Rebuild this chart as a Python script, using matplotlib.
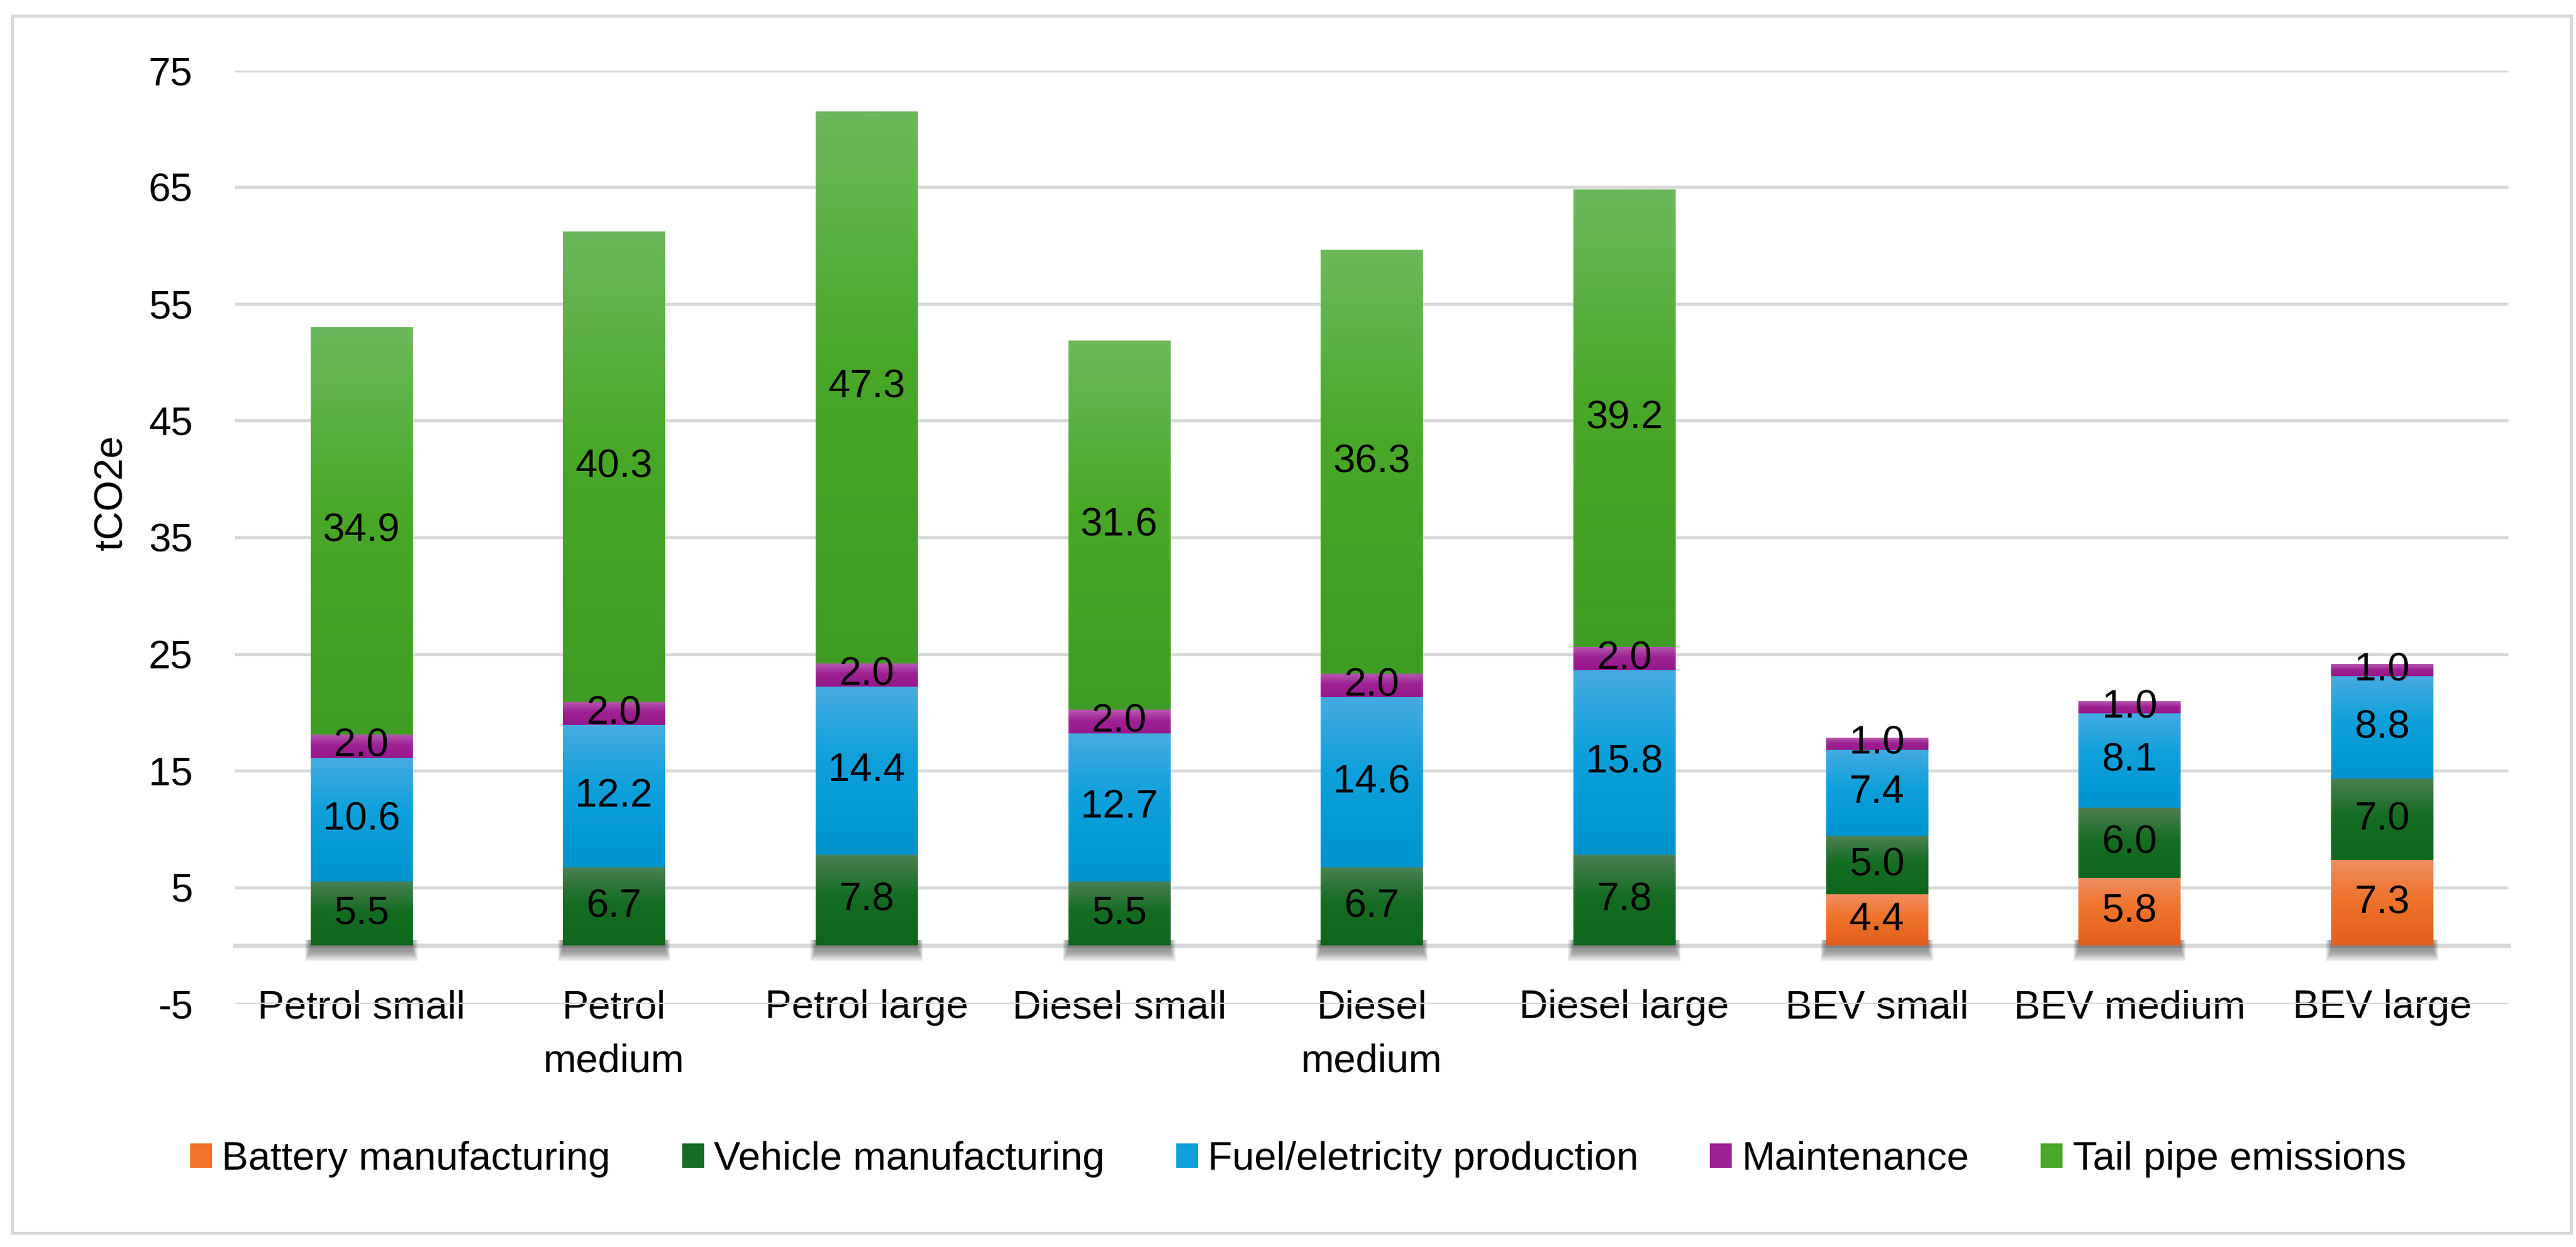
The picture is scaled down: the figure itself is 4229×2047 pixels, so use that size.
import numpy as np
import matplotlib
matplotlib.use("Agg")
import matplotlib.pyplot as plt
from matplotlib.patches import Patch, Rectangle
from matplotlib.colors import to_rgb

plt.rcParams["font.family"] = ["Liberation Sans", "DejaVu Sans"]
plt.rcParams["axes.unicode_minus"] = False

# --- datos (tCO2e) ---
categories = ["Petrol small", "Petrol\nmedium", "Petrol large", "Diesel small",
              "Diesel\nmedium", "Diesel large", "BEV small", "BEV medium", "BEV large"]
series_names = ["Battery manufacturing", "Vehicle manufacturing",
                "Fuel/eletricity production", "Maintenance", "Tail pipe emissions"]
battery = [0, 0, 0, 0, 0, 0, 4.4, 5.8, 7.3]
vehicle = [5.5, 6.7, 7.8, 5.5, 6.7, 7.8, 5.0, 6.0, 7.0]
fuel = [10.6, 12.2, 14.4, 12.7, 14.6, 15.8, 7.4, 8.1, 8.8]
maintenance = [2.0, 2.0, 2.0, 2.0, 2.0, 2.0, 1.0, 1.0, 1.0]
tailpipe = [34.9, 40.3, 47.3, 31.6, 36.3, 39.2, 0, 0, 0]
yticks = [-5, 5, 15, 25, 35, 45, 55, 65, 75]

# colores (claro arriba, medio, oscuro abajo) -> imitan el degradado de Excel
palette = [
    ("#EF8C60", "#F0742C", "#E25E1E"),
    ("#4C8052", "#156D22", "#0E661C"),
    ("#45ABE1", "#0DA0DB", "#0094CF"),
    ("#B65AB0", "#9E2294", "#97188B"),
    ("#6DB85C", "#49A828", "#3E9C22"),
]

W, H = 4229, 2047
FS = 47
GRID = "#D9D9D9"


def gradient(light, mid, dark, n=64):
    t = np.linspace(0, 1, n)
    l, m, d = (np.array(to_rgb(c)) for c in (light, mid, dark))
    out = np.empty((n, 1, 3))
    for k, tk in enumerate(t):
        if tk < 0.55:
            f = tk / 0.55
            out[k, 0] = d + (m - d) * f
        else:
            f = (tk - 0.55) / 0.45
            out[k, 0] = m + (l - m) * f
    return out


fig = plt.figure(figsize=(W / 100, H / 100), dpi=100)
fig.patches.append(Rectangle((20 / W, 1 - 2024 / H), (4221 - 20) / W, (2024 - 26) / H,
                             transform=fig.transFigure, fill=False,
                             edgecolor=GRID, linewidth=3.6))
ax = fig.add_axes([386 / W, 1 - 1648 / H, (4118 - 386) / W, (1648 - 116) / H])

x = np.arange(len(categories))
bw = 0.403
data = [battery, vehicle, fuel, maintenance, tailpipe]
totals = np.sum(data, axis=0)

# sombra difusa bajo la base de cada barra
px_x = 1 / 414.0
px_y = 1 / 19.15
for i in x:
    for k in range(8):
        grow = (k + 1) * 2.2
        ax.add_patch(Rectangle((i - bw / 2 - grow * 0.5 * px_x, -(8 + grow) * px_y),
                               bw + 2 * grow * 0.5 * px_x, (8 + grow) * px_y + 0.5,
                               facecolor="black", edgecolor="none",
                               alpha=0.06, zorder=2.5))

bottom = np.zeros(len(categories))
for vals, (light, mid, dark) in zip(data, palette):
    vals = np.array(vals, dtype=float)
    grad = gradient(light, mid, dark)
    ax.bar(x, vals, bw, bottom=bottom, color=mid, zorder=3)
    for i, (b, v) in enumerate(zip(bottom, vals)):
        if v <= 0:
            continue
        ax.imshow(grad, extent=[i - bw / 2, i + bw / 2, b, b + v], origin="lower",
                  aspect="auto", interpolation="bilinear", zorder=3.1)
        ax.text(i, b + v / 2, f"{v:.1f}", ha="center", va="center",
                fontsize=FS, color="black", zorder=5)
    bottom += vals

ax.set_xlim(-0.5, len(categories) - 0.5)
ax.set_ylim(-5, 75)
ax.set_yticks(yticks)
ax.yaxis.grid(True, color=GRID, linewidth=3.6)
ax.set_axisbelow(True)
for s in ["top", "right", "left"]:
    ax.spines[s].set_visible(False)
ax.spines["bottom"].set_position(("data", 0))
ax.spines["bottom"].set_color(GRID)
ax.spines["bottom"].set_linewidth(5)
ax.spines["bottom"].set_zorder(2)
ax.set_xticks(x)
ax.set_xticklabels(categories, fontsize=FS, linespacing=1.6)
ax.tick_params(axis="x", length=0, pad=52)
ax.tick_params(axis="y", length=0, pad=50, labelsize=FS)
ax.set_facecolor("none")

fig.text(183 / W, 1 - 809 / H, "tCO2e", rotation=90, ha="center", va="center",
         fontsize=FS)

handles = [Patch(facecolor=p[1], edgecolor="none") for p in palette]
fig.legend(handles, series_names, loc="center", ncol=5, frameon=False,
           bbox_to_anchor=(2131 / W, 1 - 1903 / H), fontsize=FS,
           handlelength=0.55, handleheight=0.55, handletextpad=0.25,
           columnspacing=1.8)

fig.savefig("out.png", dpi=100)
